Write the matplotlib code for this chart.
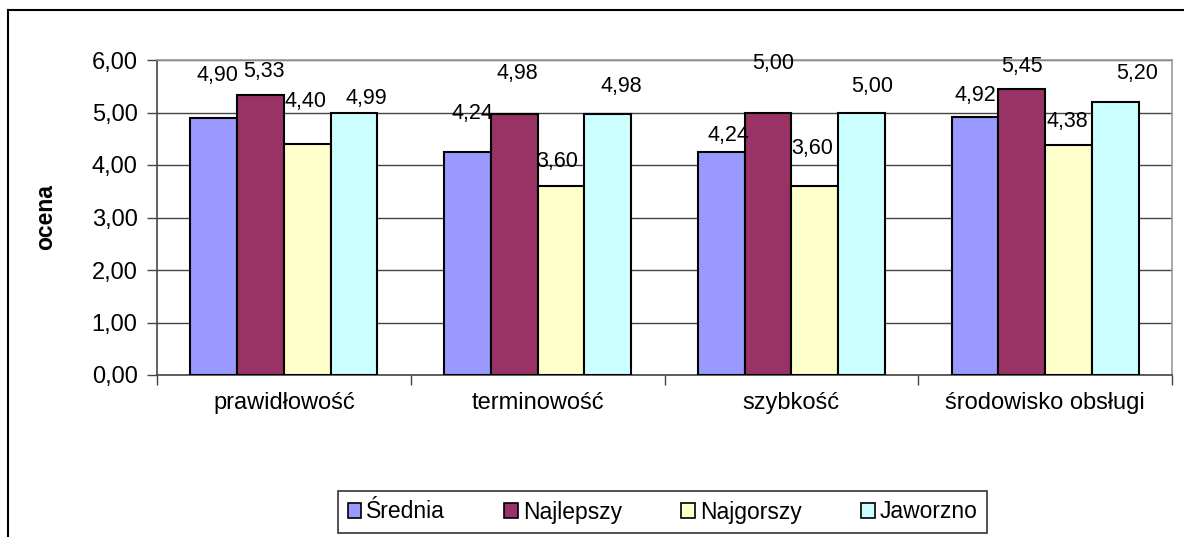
import matplotlib
matplotlib.use("Agg")
import matplotlib.pyplot as plt
import numpy as np
from matplotlib.lines import Line2D
from matplotlib.patches import Patch

plt.rcParams['font.family'] = ['Liberation Sans', 'DejaVu Sans']

categories = ["prawidłowość", "terminowość", "szybkość", "środowisko obsługi"]
series_names = ["Średnia", "Najlepszy", "Najgorszy", "Jaworzno"]
srednia = [4.90, 4.24, 4.24, 4.92]
najlepszy = [5.33, 4.98, 5.00, 5.45]
najgorszy = [4.40, 3.60, 3.60, 4.38]
jaworzno = [4.99, 4.98, 5.00, 5.20]
y_ticks = [0, 1, 2, 3, 4, 5, 6]

colors = ["#9999FF", "#993366", "#FFFFCC", "#CCFFFF"]
# label placement (data units above bar top, pixel shift in x) - Excel auto layout
label_rise = [[0.80, 0.75, 0.33, 0.41],
              [0.46, 0.77, 0.94, 0.42],
              [0.80, 0.46, 0.72, 0.44],
              [0.27, 0.51, 0.49, 0.55]]
label_dx = [[4, 5, 7, 0],
            [3, 3, 5, 0],
            [-2, -4, -3, -1],
            [12, 14, 11, 22]]

W, H = 1184, 537
fig = plt.figure(figsize=(W / 100, H / 100), dpi=100)
ax = fig.add_axes([157 / W, 1 - 375 / H, (1172 - 157) / W, (375 - 60) / H])

data = [srednia, najlepszy, najgorszy, jaworzno]
x = np.arange(len(categories))
bw = 0.184
for i, (vals, col, name) in enumerate(zip(data, colors, series_names)):
    pos = x + (i - 1.5) * bw
    ax.bar(pos, vals, width=bw, color=col, edgecolor="black", linewidth=1.5,
           label=name, zorder=3)
    for j, v in enumerate(vals):
        ax.annotate(f"{v:.2f}".replace(".", ","), (pos[j], v + label_rise[i][j]),
                    xytext=(label_dx[i][j] * 0.72, 0), textcoords="offset points",
                    ha="center", va="center", fontsize=15.5, color="black", zorder=4)

ax.set_xlim(-0.5, 3.5)
ax.set_ylim(0, 6)
ax.set_yticks(y_ticks)
ax.set_yticklabels([f"{t:.2f}".replace(".", ",") for t in y_ticks], fontsize=17)
ax.set_xticks(x)
ax.set_xticklabels(categories, fontsize=17)
ax.tick_params(axis="x", length=0, pad=12)
ax.set_xticks(np.arange(-0.5, 3.6, 1.0), minor=True)
ax.tick_params(axis="x", which="minor", length=7, width=1, color="#444444")
ax.tick_params(axis="y", length=7, width=1, color="#444444", pad=7)
ax.grid(axis="y", color="#444444", linewidth=1, zorder=0)
ax.set_axisbelow(True)
for s in ["top", "right"]:
    ax.spines[s].set_color("#999999")
    ax.spines[s].set_linewidth(1.2)
ax.spines["left"].set_color("#444444")
ax.spines["bottom"].set_color("#444444")
ax.spines["left"].set_linewidth(1.2)
ax.spines["bottom"].set_linewidth(1.2)

ax.set_ylabel("ocena", fontsize=16.5, fontweight="bold")
ax.yaxis.set_label_coords(-100 / (1172 - 157), 0.5)

handles = [Patch(facecolor=c, edgecolor="black", linewidth=1.2) for c in colors]
leg = fig.legend(handles, series_names, loc="center",
                 bbox_to_anchor=((340 + 985) / 2 / W, 1 - 512 / H),
                 ncol=4, frameon=True, fancybox=False, fontsize=16.5,
                 handlelength=0.6, handleheight=0.6, handletextpad=0.2,
                 columnspacing=2.6, borderpad=0.4, edgecolor="black")
leg.get_frame().set_linewidth(1.2)

# outer chart frame
fig.add_artist(Line2D([8 / W, 1], [1 - 10 / H, 1 - 10 / H], color="black", linewidth=1.5))
fig.add_artist(Line2D([8 / W, 8 / W], [0, 1 - 10 / H], color="black", linewidth=1.5))

fig.savefig("out.png", dpi=100)
